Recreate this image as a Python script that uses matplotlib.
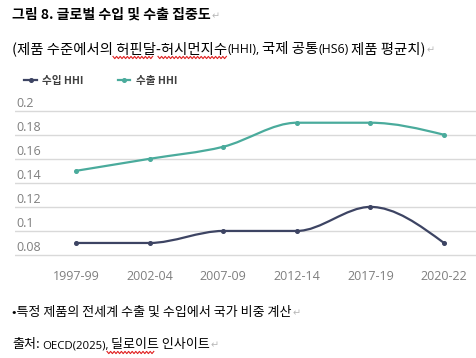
import numpy as np
import matplotlib
matplotlib.use("Agg")
import matplotlib.pyplot as plt
from matplotlib.path import Path
from matplotlib.patches import PathPatch
from matplotlib.lines import Line2D

plt.rcParams['font.family'] = ['Noto Sans CJK KR', 'DejaVu Sans']

periods = ["1997-99", "2002-04", "2007-09", "2012-14", "2017-19", "2020-22"]
import_hhi = [0.09, 0.09, 0.10, 0.10, 0.12, 0.09]
export_hhi = [0.15, 0.16, 0.17, 0.19, 0.19, 0.18]
yticks = [0.08, 0.1, 0.12, 0.14, 0.16, 0.18, 0.2]
ytick_labels = ["0.08", "0.1", "0.12", "0.14", "0.16", "0.18", "0.2"]
series_names = ["수입 HHI", "수출 HHI"]

title = "그림 8. 글로벌 수입 및 수출 집중도"
subtitle_parts = ["(제품 수준에서의 허핀달-허시먼지수", "(HHI),", "국제 공통", "(HS6)", "제품 평균치)"]
note = "•특정 제품의 전세계 수출 및 수입에서 국가 비중 계산"
source_parts = ["출처:", "OECD(2025),", "딜로이트 인사이트"]

c_imp = "#3d4463"
c_exp = "#4aab9c"
grid_c = "#d9d9d9"
lab_c = "#7f7f7f"
mark_c = "#b8b8b8"

CJK = ['Noto Sans CJK KR', 'DejaVu Sans']
LAT = ['Open Sans', 'DejaVu Sans']


def monotone_path(xs, ys):
    xs = np.asarray(xs, float)
    ys = np.asarray(ys, float)
    n = len(xs)
    t = np.zeros(n)
    for i in range(1, n - 1):
        h0 = xs[i] - xs[i - 1]
        h1 = xs[i + 1] - xs[i]
        s0 = (ys[i] - ys[i - 1]) / h0
        s1 = (ys[i + 1] - ys[i]) / h1
        p = (s0 * h1 + s1 * h0) / (h0 + h1)
        t[i] = (np.sign(s0) + np.sign(s1)) * min(abs(s0), abs(s1), 0.5 * abs(p))
    h = xs[1] - xs[0]
    t[0] = (3 * (ys[1] - ys[0]) / h - t[1]) / 2
    h = xs[-1] - xs[-2]
    t[-1] = (3 * (ys[-1] - ys[-2]) / h - t[-2]) / 2
    verts = [(xs[0], ys[0])]
    codes = [Path.MOVETO]
    for i in range(n - 1):
        dx = (xs[i + 1] - xs[i]) / 3
        verts += [(xs[i] + dx, ys[i] + dx * t[i]),
                  (xs[i + 1] - dx, ys[i + 1] - dx * t[i + 1]),
                  (xs[i + 1], ys[i + 1])]
        codes += [Path.CURVE4] * 3
    return Path(verts, codes)


W, H = 477, 358
fig = plt.figure(figsize=(W / 100, H / 100), dpi=100)
renderer = fig.canvas.get_renderer()


def put(s, x0, base_y, family, size=None, width=None, weight='normal', color='black'):
    """Text at pixel x0 (from left), baseline base_y (from top); sized to `width` px if given.
    Returns (artist, right edge in px)."""
    t = fig.text(x0 / W, 1 - base_y / H, s, fontsize=size or 10, family=family,
                 fontweight=weight, va='baseline', ha='left', color=color)
    if width is not None:
        w = t.get_window_extent(renderer).width
        t.set_fontsize(10 * width / w)
    ext = t.get_window_extent(renderer)
    return t, ext.x1


def squiggle(x0, x1, y, amp=1.1, period=3.6):
    xs = np.arange(x0, x1 + 0.01, period / 2)
    ys = y + np.where(np.arange(len(xs)) % 2 == 0, -amp, amp)
    fig.add_artist(Line2D(xs / W, 1 - ys / H, color='#e02020', lw=0.8))


# axes placed in pixel terms
left_px, right_px = 15, 477
ax = fig.add_axes([left_px / W, 1 - 257.4 / H, (right_px - left_px) / W, (257.4 - 108.3) / H])
x = np.arange(len(periods))
px_per_unit = 73.6
ax.set_xlim(-(76 - left_px) / px_per_unit, 5 + (right_px - 444) / px_per_unit)
ax.set_ylim(0.078, 0.2020)

for yv in yticks:
    ax.axhline(yv, color=grid_c, lw=1.0, zorder=1)

for ys, col in [(import_hhi, c_imp), (export_hhi, c_exp)]:
    ax.add_patch(PathPatch(monotone_path(x, ys), facecolor='none', edgecolor=col,
                           lw=1.6, zorder=3, capstyle='round'))
    ax.plot(x, ys, linestyle='none', marker='o', ms=2.6, color=col, zorder=4)

ax.set_xticks(x)
ax.set_xticklabels(periods, fontsize=9, color=lab_c, family=['Open Sans', 'DejaVu Sans'])
ax.tick_params(axis='x', length=0, pad=9)
ax.set_yticks([])
for sp in ax.spines.values():
    sp.set_visible(False)

for yv, lab in zip(yticks, ytick_labels):
    ax.annotate(lab, xy=(0, yv), xycoords=('axes fraction', 'data'),
                xytext=(1, 0.8), textcoords='offset points', ha='left', va='bottom',
                fontsize=9, color=lab_c, family=['Open Sans', 'DejaVu Sans'])

# legend
handles = [Line2D([0], [0], color=c_imp, lw=1.6, marker='o', ms=2.6),
           Line2D([0], [0], color=c_exp, lw=1.6, marker='o', ms=2.6)]
fig.legend(handles, series_names, loc='center left', bbox_to_anchor=(15 / W, 1 - 81 / H),
           ncol=2, frameon=False, handlelength=1.2, handletextpad=0.5, columnspacing=3.2,
           prop={'size': 7.6, 'weight': 'bold', 'family': CJK},
           labelcolor='#404040')

# title
_, e = put(title, 12, 19, CJK, width=198, weight='bold')
put("↵", e + 1, 19, CJK, size=7, color=mark_c)

# subtitle (Korean parts one size, Latin parts smaller)
t0, e = put(subtitle_parts[0], 12, 53, CJK, width=214)
ks = t0.get_fontsize()
_, e = put(subtitle_parts[1], e + 0.5, 53, LAT, size=8.8)
_, e = put(subtitle_parts[2], e + 2, 53, CJK, size=ks)
_, e = put(subtitle_parts[3], e + 0.5, 53, LAT, size=8.8)
_, e = put(subtitle_parts[4], e + 2, 53, CJK, size=ks)
put("↵", e + 1, 53, CJK, size=7, color=mark_c)
squiggle(113, 153, 57.5)
squiggle(158, 227, 57.5)

# note
t1, e = put(note, 12, 316, CJK, width=278)
ns = t1.get_fontsize()
put("↵", e + 1, 316, CJK, size=7, color=mark_c)

# source
_, e = put(source_parts[0], 12, 348, CJK, size=ns)
_, e = put(source_parts[1], e + 3, 348, LAT, size=8.2)
_, e = put(source_parts[2], e + 1.5, 348, CJK, size=ns)
put("↵", e + 1, 348, CJK, size=7, color=mark_c)
squiggle(107, 154, 352.5)

fig.savefig("out.png", dpi=100)
